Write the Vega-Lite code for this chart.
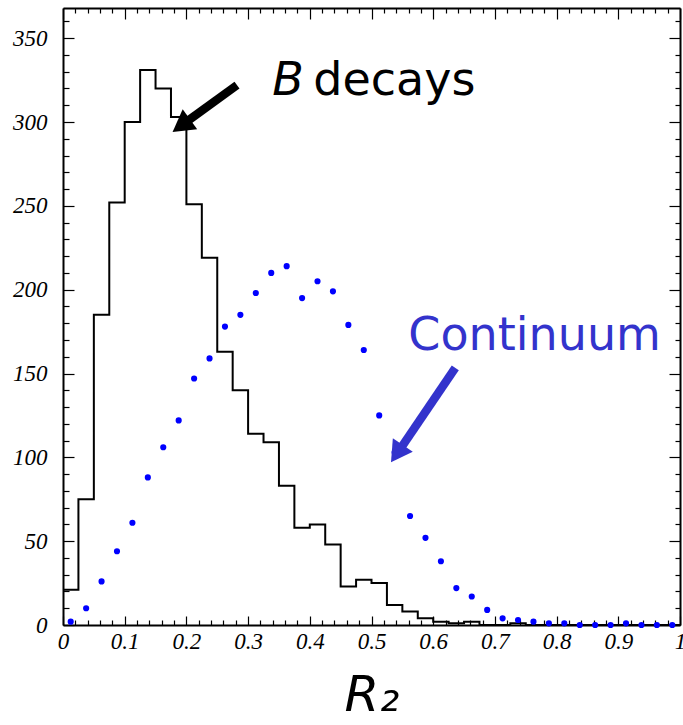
{
  "$schema": "https://vega.github.io/schema/vega-lite/v6.json",
  "autosize": {"type": "none"},
  "padding": {"left": 63, "top": 8, "right": 3, "bottom": 100},
  "width": 617,
  "height": 617,
  "config": {
    "view": {"stroke": null},
    "axis": {
      "domainColor": "black",
      "domainWidth": 2,
      "tickColor": "black",
      "tickWidth": 1.2,
      "grid": false,
      "labelColor": "black",
      "labelFlush": false,
      "labelOverlap": false,
      "labelBound": false
    }
  },
  "datasets": {
    "hist": [
      {"x": 0, "n": 21}, {"x": 0.025, "n": 75}, {"x": 0.05, "n": 185}, {"x": 0.075, "n": 252},
      {"x": 0.1, "n": 300}, {"x": 0.125, "n": 331}, {"x": 0.15, "n": 320}, {"x": 0.175, "n": 303},
      {"x": 0.2, "n": 251}, {"x": 0.225, "n": 219}, {"x": 0.25, "n": 163}, {"x": 0.275, "n": 140},
      {"x": 0.3, "n": 114}, {"x": 0.325, "n": 109}, {"x": 0.35, "n": 83}, {"x": 0.375, "n": 58},
      {"x": 0.4, "n": 60}, {"x": 0.425, "n": 48}, {"x": 0.45, "n": 23}, {"x": 0.475, "n": 27},
      {"x": 0.5, "n": 25}, {"x": 0.525, "n": 12}, {"x": 0.55, "n": 8}, {"x": 0.575, "n": 4},
      {"x": 0.6, "n": 2}, {"x": 0.625, "n": 1}, {"x": 0.65, "n": 2}, {"x": 0.675, "n": 0},
      {"x": 0.7, "n": 0}, {"x": 0.725, "n": 1}, {"x": 0.75, "n": 0}, {"x": 1, "n": 0}
    ],
    "cont": [
      {"x": 0.0125, "n": 2}, {"x": 0.0375, "n": 10}, {"x": 0.0625, "n": 26}, {"x": 0.0875, "n": 44},
      {"x": 0.1125, "n": 61}, {"x": 0.1375, "n": 88}, {"x": 0.1625, "n": 106}, {"x": 0.1875, "n": 122},
      {"x": 0.2125, "n": 147}, {"x": 0.2375, "n": 159}, {"x": 0.2625, "n": 178}, {"x": 0.2875, "n": 185},
      {"x": 0.3125, "n": 198}, {"x": 0.3375, "n": 210}, {"x": 0.3625, "n": 214}, {"x": 0.3875, "n": 195},
      {"x": 0.4125, "n": 205}, {"x": 0.4375, "n": 199}, {"x": 0.4625, "n": 179}, {"x": 0.4875, "n": 164},
      {"x": 0.5125, "n": 125}, {"x": 0.5375, "n": 103}, {"x": 0.5625, "n": 65}, {"x": 0.5875, "n": 52},
      {"x": 0.6125, "n": 38}, {"x": 0.6375, "n": 22}, {"x": 0.6625, "n": 17}, {"x": 0.6875, "n": 9},
      {"x": 0.7125, "n": 4}, {"x": 0.7375, "n": 3}, {"x": 0.7625, "n": 2}, {"x": 0.7875, "n": 1},
      {"x": 0.8125, "n": 1}, {"x": 0.8375, "n": 0}, {"x": 0.8625, "n": 0}, {"x": 0.8875, "n": 0},
      {"x": 0.9125, "n": 1}, {"x": 0.9375, "n": 0}, {"x": 0.9625, "n": 0}, {"x": 0.9875, "n": 0}
    ]
  },
  "resolve": {"axis": {"x": "independent", "y": "independent"}},
  "layer": [
    {
      "data": {"name": "hist"},
      "mark": {"type": "line", "interpolate": "step-after", "color": "black", "strokeWidth": 2, "clip": true},
      "encoding": {
        "x": {
          "field": "x", "type": "quantitative",
          "scale": {"domain": [0, 1], "nice": false, "zero": false},
          "axis": {
            "orient": "bottom",
            "values": [0,0.02,0.04,0.06,0.08,0.1,0.12,0.14,0.16,0.18,0.2,0.22,0.24,0.26,0.28,0.3,0.32,0.34,0.36,0.38,0.4,0.42,0.44,0.46,0.48,0.5,0.52,0.54,0.56,0.58,0.6,0.62,0.64,0.66,0.68,0.7,0.72,0.74,0.76,0.78,0.8,0.82,0.84,0.86,0.88,0.9,0.92,0.94,0.96,0.98,1],
            "labelExpr": "abs(datum.value*10 - round(datum.value*10)) < 0.001 ? format(datum.value, '~g') : ''",
            "tickSize": {"condition": {"test": "abs(datum.value*10 - round(datum.value*10)) < 0.001", "value": -9}, "value": -5},
            "labelFont": "Liberation Serif",
            "labelFontStyle": "italic",
            "labelFontSize": 23,
            "labelPadding": 14,
            "title": "R₂",
            "titleFont": "DejaVu Sans",
            "titleFontStyle": "oblique",
            "titleFontWeight": "normal",
            "titleFontSize": 50,
            "titleColor": "black",
            "titleBaseline": "alphabetic",
            "titleY": 85
          }
        },
        "y": {
          "field": "n", "type": "quantitative",
          "scale": {"domain": [0, 368], "nice": false},
          "axis": {
            "orient": "left",
            "values": [0,10,20,30,40,50,60,70,80,90,100,110,120,130,140,150,160,170,180,190,200,210,220,230,240,250,260,270,280,290,300,310,320,330,340,350,360],
            "labelExpr": "datum.value % 50 === 0 ? datum.label : ''",
            "tickSize": {"condition": {"test": "datum.value % 50 === 0", "value": -11}, "value": -6},
            "labelFont": "Liberation Serif",
            "labelFontStyle": "italic",
            "labelFontSize": 23,
            "labelPadding": 27,
            "title": null
          }
        }
      }
    },
    {
      "data": {"name": "cont"},
      "mark": {"type": "point", "filled": true, "color": "#0000ff", "size": 38, "opacity": 1},
      "encoding": {
        "x": {
          "field": "x", "type": "quantitative",
          "scale": {"domain": [0, 1], "nice": false, "zero": false},
          "axis": {
            "orient": "top",
            "values": [0,0.02,0.04,0.06,0.08,0.1,0.12,0.14,0.16,0.18,0.2,0.22,0.24,0.26,0.28,0.3,0.32,0.34,0.36,0.38,0.4,0.42,0.44,0.46,0.48,0.5,0.52,0.54,0.56,0.58,0.6,0.62,0.64,0.66,0.68,0.7,0.72,0.74,0.76,0.78,0.8,0.82,0.84,0.86,0.88,0.9,0.92,0.94,0.96,0.98,1],
            "labels": false,
            "tickSize": {"condition": {"test": "abs(datum.value*10 - round(datum.value*10)) < 0.001", "value": -11}, "value": -5},
            "title": null
          }
        },
        "y": {
          "field": "n", "type": "quantitative",
          "scale": {"domain": [0, 368], "nice": false},
          "axis": {
            "orient": "right",
            "values": [0,10,20,30,40,50,60,70,80,90,100,110,120,130,140,150,160,170,180,190,200,210,220,230,240,250,260,270,280,290,300,310,320,330,340,350,360],
            "labels": false,
            "tickSize": {"condition": {"test": "datum.value % 50 === 0", "value": -11}, "value": -5},
            "title": null
          }
        }
      }
    },
    {
      "data": {"values": [
        {"label": "black", "x1": 0.282, "y1": 322, "x2": 0.1985, "y2": 299.7},
        {"label": "blue", "x1": 0.6358, "y1": 153.3, "x2": 0.5462, "y2": 104.8}
      ]},
      "mark": {"type": "rule", "strokeWidth": 8.5, "strokeCap": "butt"},
      "encoding": {
        "x": {"field": "x1", "type": "quantitative", "scale": {"domain": [0, 1], "nice": false, "zero": false}, "axis": null},
        "y": {"field": "y1", "type": "quantitative", "scale": {"domain": [0, 368], "nice": false}, "axis": null},
        "x2": {"field": "x2"},
        "y2": {"field": "y2"},
        "color": {"field": "label", "type": "nominal", "scale": {"domain": ["black", "blue"], "range": ["#000000", "#3333cc"]}, "legend": null}
      }
    },
    {
      "data": {"values": [{"x": 0.1776, "y": 294.1}]},
      "mark": {"type": "point", "filled": true, "color": "#000000", "opacity": 1, "shape": "M0,0 L-1.15,2 L1.15,2 Z", "size": 460, "angle": 234},
      "encoding": {
        "x": {"field": "x", "type": "quantitative", "scale": {"domain": [0, 1], "nice": false, "zero": false}, "axis": null},
        "y": {"field": "y", "type": "quantitative", "scale": {"domain": [0, 368], "nice": false}, "axis": null}
      }
    },
    {
      "data": {"values": [{"x": 0.5316, "y": 97.0}]},
      "mark": {"type": "point", "filled": true, "color": "#3333cc", "opacity": 1, "shape": "M0,0 L-1.15,2 L1.15,2 Z", "size": 440, "angle": 214.3},
      "encoding": {
        "x": {"field": "x", "type": "quantitative", "scale": {"domain": [0, 1], "nice": false, "zero": false}, "axis": null},
        "y": {"field": "y", "type": "quantitative", "scale": {"domain": [0, 368], "nice": false}, "axis": null}
      }
    },
    {
      "data": {"values": [{"x": 0.339, "y": 316, "t": "B"}]},
      "mark": {"type": "text", "font": "DejaVu Sans", "fontSize": 46, "fontStyle": "oblique", "align": "left", "baseline": "alphabetic", "color": "black"},
      "encoding": {
        "x": {"field": "x", "type": "quantitative", "scale": {"domain": [0, 1], "nice": false, "zero": false}, "axis": null},
        "y": {"field": "y", "type": "quantitative", "scale": {"domain": [0, 368], "nice": false}, "axis": null},
        "text": {"field": "t"}
      }
    },
    {
      "data": {"values": [{"x": 0.4057, "y": 316, "t": "decays"}]},
      "mark": {"type": "text", "font": "DejaVu Sans", "fontSize": 46, "align": "left", "baseline": "alphabetic", "color": "black"},
      "encoding": {
        "x": {"field": "x", "type": "quantitative", "scale": {"domain": [0, 1], "nice": false, "zero": false}, "axis": null},
        "y": {"field": "y", "type": "quantitative", "scale": {"domain": [0, 368], "nice": false}, "axis": null},
        "text": {"field": "t"}
      }
    },
    {
      "data": {"values": [{"x": 0.5597, "y": 164.3, "t": "Continuum"}]},
      "mark": {"type": "text", "font": "DejaVu Sans", "fontSize": 46, "align": "left", "baseline": "alphabetic", "color": "#3333cc"},
      "encoding": {
        "x": {"field": "x", "type": "quantitative", "scale": {"domain": [0, 1], "nice": false, "zero": false}, "axis": null},
        "y": {"field": "y", "type": "quantitative", "scale": {"domain": [0, 368], "nice": false}, "axis": null},
        "text": {"field": "t"}
      }
    }
  ]
}
